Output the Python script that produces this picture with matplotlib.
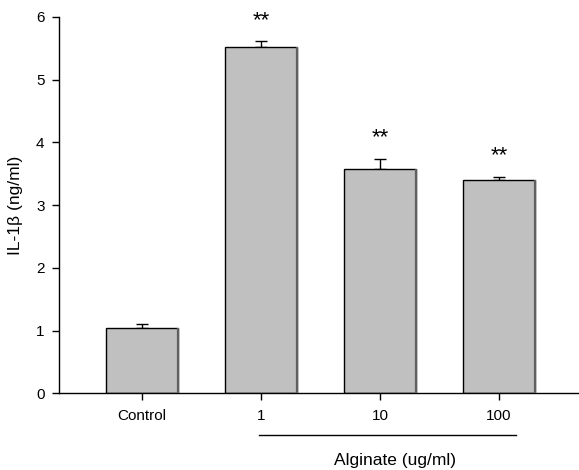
import matplotlib
matplotlib.use("Agg")
import matplotlib.pyplot as plt

plt.rcParams['font.family'] = ['Liberation Sans', 'DejaVu Sans']

# data
groups = ['Control', '1', '10', '100']
means = [1.05, 5.52, 3.58, 3.40]
errors = [0.055, 0.09, 0.15, 0.05]
stars = ['', '**', '**', '**']

x = list(range(len(groups)))
width = 0.6

fig = plt.figure(figsize=(5.79, 4.70), dpi=100)
ax = fig.add_axes([0.102, 0.163, 0.898, 0.801])

bars = ax.bar(x, means, width=width, color='#c0c0c0', edgecolor='black',
              linewidth=1.0, zorder=2)
# darker shadow on right edge of each bar
for xi, m in zip(x, means):
    ax.plot([xi + width / 2, xi + width / 2], [0, m], color='#606060',
            lw=1.6, zorder=3, solid_capstyle='butt')

ax.errorbar(x, means, yerr=[[0] * len(errors), errors], fmt='none',
            ecolor='black', elinewidth=1.0, capsize=4, capthick=1.0, zorder=1)

for xi, m, e, s in zip(x, means, errors, stars):
    if s:
        ax.text(xi, m + e + 0.25, s, ha='center', va='baseline',
                fontsize=16)

ax.set_xlim(-0.697, 3.672)
ax.set_ylim(0, 6)
ax.set_xticks(x)
ax.set_xticklabels(groups, fontsize=11)
ax.set_yticks(range(0, 7))
ax.tick_params(axis='y', labelsize=11, length=5, width=1, pad=5.5, direction='out')
ax.tick_params(axis='x', length=5, width=1, pad=6.5, direction='out')
ax.set_ylabel('IL-1β (ng/ml)', fontsize=12.5, labelpad=9)

for side in ['top', 'right']:
    ax.spines[side].set_visible(False)
for side in ['left', 'bottom']:
    ax.spines[side].set_linewidth(1.0)

# bracket under the alginate doses
trans = ax.get_xaxis_transform()
ax.plot([0.98, 3.14], [-0.111, -0.111], color='black', lw=1.0,
        transform=trans, clip_on=False)
ax.text(2.13, -0.178, 'Alginate (ug/ml)', ha='center', va='center',
        fontsize=12.5, transform=trans)

fig.savefig('out.png', dpi=100)
